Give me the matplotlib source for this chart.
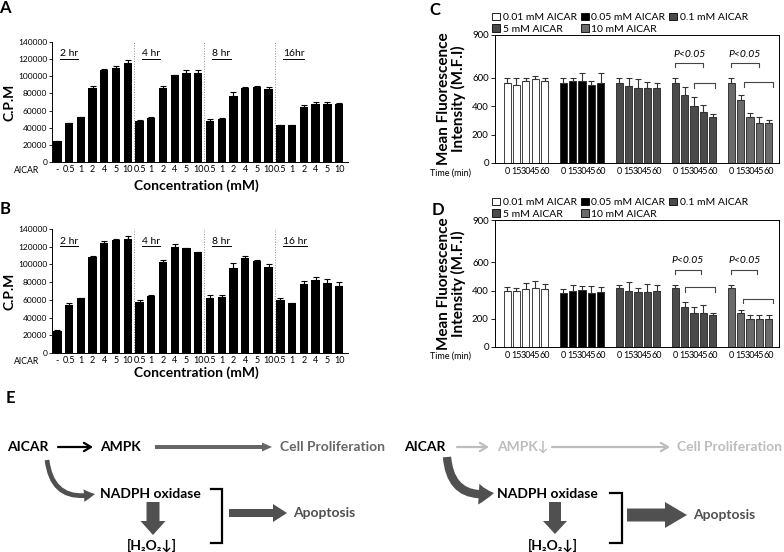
import numpy as np
import matplotlib
matplotlib.use("Agg")
import matplotlib.pyplot as plt
from matplotlib.patches import FancyArrow, FancyArrowPatch, Patch
from matplotlib.lines import Line2D

plt.rcParams["font.family"] = ["Lato", "DejaVu Sans"]

W, H = 784, 552

# ---- panels A / B : proliferation (C.P.M) ----
conc_labels = ["-", "0.5", "1", "2", "4", "5", "10",
               "0.5", "1", "2", "4", "5", "10",
               "0.5", "1", "2", "4", "5", "10",
               "0.5", "1", "2", "4", "5", "10"]
group_starts = [0, 7, 13, 19]
hours_a = ["2 hr", "4 hr", "8 hr", "16hr"]
hours_b = ["2 hr", "4 hr", "8 hr", "16 hr"]

cpm_a = [24000, 45000, 52000, 86000, 107000, 110000, 116000,
         48000, 51000, 86000, 101000, 104000, 104000,
         48000, 50000, 77000, 86000, 87000, 85000,
         43000, 43000, 64000, 68000, 68000, 68000]
err_a = [1000, 1000, 500, 3000, 1000, 2000, 2500,
         500, 2000, 3000, 1000, 3000, 3500,
         2000, 1000, 5000, 2000, 2000, 3000,
         500, 500, 2500, 1500, 2500, 1000]

cpm_b = [25000, 54000, 62000, 108000, 124000, 128000, 129000,
         58000, 64000, 103000, 120000, 118000, 114000,
         62000, 63000, 96000, 107000, 104000, 97000,
         60000, 56000, 78000, 82000, 79000, 76000]
err_b = [1000, 2000, 500, 1000, 3000, 1000, 3000,
         2000, 2000, 2000, 3000, 1000, 500,
         4000, 3000, 6000, 2000, 1000, 3000,
         2000, 500, 3000, 4000, 4000, 4000]

# ---- panels C / D : mean fluorescence intensity ----
doses = ["0.01 mM AICAR", "0.05 mM AICAR", "0.1 mM AICAR", "5 mM AICAR", "10 mM AICAR"]
dose_colors = ["white", "black", "#4a4a4a", "#4a4a4a", "#6a6a6a"]
times = ["0", "15", "30", "45", "60"]

mfi_c = [[560, 550, 575, 590, 575],
         [560, 575, 580, 550, 565],
         [560, 540, 530, 530, 530],
         [560, 480, 400, 360, 320],
         [560, 440, 320, 280, 280]]
err_c = [[35, 50, 25, 25, 25],
         [35, 25, 55, 30, 65],
         [35, 55, 60, 40, 30],
         [35, 55, 65, 45, 25],
         [35, 35, 35, 40, 25]]

mfi_d = [[400, 395, 410, 420, 410],
         [385, 395, 405, 385, 390],
         [415, 400, 390, 390, 395],
         [415, 280, 240, 240, 225],
         [415, 240, 200, 200, 200]]
err_d = [[25, 25, 45, 45, 35],
         [25, 45, 25, 45, 35],
         [25, 60, 30, 60, 45],
         [25, 40, 45, 60, 15],
         [25, 25, 25, 25, 25]]

# brackets: (group, bar from, bar to, top, leg end)
brackets_c = [(3, 0, 3, 705, 675), (3, 2, 4.2, 565, 527),
              (4, 0, 3, 705, 675), (4, 1.3, 4.5, 572, 536)]
brackets_d = [(3, 0, 2.7, 546, 517), (3, 1, 4.2, 427, 392),
              (4, 0, 2.7, 546, 517), (4, 1.2, 4.5, 340, 312)]
plabels_c = [(3, 1.5, 765), (4, 1.4, 765)]
plabels_d = [(3, 1.3, 610), (4, 1.4, 610)]

fig = plt.figure(figsize=(W / 100, H / 100), dpi=100)


def add_ax(left, top, right, bottom):
    return fig.add_axes([left / W, 1 - bottom / H, (right - left) / W, (bottom - top) / H])


def ftext(x, y, s, **kw):
    kw.setdefault("va", "center")
    return fig.text(x / W, 1 - y / H, s, **kw)


underlined = []


def cpm_panel(box, vals, errs, hours, letter, letter_y, aicar_y, xlabel_y):
    ax = add_ax(*box)
    x = np.arange(len(vals))
    ax.bar(x, vals, width=0.72, color="black",
           yerr=[np.zeros(len(errs)), errs],
           error_kw=dict(ecolor="black", elinewidth=0.8, capsize=2, capthick=0.8))
    ax.set_xlim(-0.45, 24.75)
    ax.set_ylim(0, 140000)
    ax.set_yticks(np.arange(0, 140001, 20000))
    ax.tick_params(axis="y", labelsize=6, length=2, width=0.6, pad=1.5)
    ax.set_xticks(x, conc_labels)
    ax.tick_params(axis="x", labelsize=6.5, length=0, pad=2.5)
    for s in ["top", "right"]:
        ax.spines[s].set_visible(False)
    for s in ["left", "bottom"]:
        ax.spines[s].set_linewidth(0.7)
    ax.vlines([6.5, 12.5, 18.5], 0, 140000, colors="0.55", linestyles=":", lw=0.7)
    for st, lab in zip(group_starts, hours):
        underlined.append(ax.text(st + 0.2, 126000, lab, fontsize=7.5, va="center"))
    ax.set_ylabel("C.P.M", fontsize=10, fontweight="bold", labelpad=2)
    ftext(5, letter_y, letter, fontsize=12, fontweight="bold", ha="center")
    ftext(39, aicar_y, "AICAR", fontsize=6.3, ha="right")
    ftext(196, xlabel_y, "Concentration (mM)", fontsize=10, fontweight="bold", ha="center")
    return ax


def mfi_panel(box, vals, errs, brackets, plabels, letter, letter_xy, time_y):
    ax = add_ax(*box)
    for g in range(5):
        x = g * 6 + np.arange(5)
        ax.bar(x, vals[g], width=0.78, color=dose_colors[g], edgecolor="#222222", lw=0.6,
               yerr=[np.zeros(5), errs[g]],
               error_kw=dict(ecolor="#333333", elinewidth=0.8, capsize=2.5, capthick=0.8))
    ax.set_xlim(-1.3, 29.1)
    ax.set_ylim(0, 900)
    ax.set_yticks([0, 200, 400, 600, 900])
    ax.tick_params(axis="y", labelsize=7, length=3, width=0.6, pad=1.5)
    ticks = [g * 6 + i for g in range(5) for i in range(5)]
    ax.set_xticks(ticks, times * 5)
    ax.tick_params(axis="x", labelsize=6.5, length=0, pad=3)
    for s in ax.spines.values():
        s.set_linewidth(0.7)
    for g, a, b, top, leg in brackets:
        xa, xb = g * 6 + a, g * 6 + b
        ax.plot([xa, xa, xb, xb], [leg, top, top, leg], color="#444444", lw=0.8)
    for g, xc, y in plabels:
        ax.text(g * 6 + xc, y, "P<0.05", fontsize=7.5, style="italic", ha="center", va="center")
    ax.set_ylabel("Mean Fluorescence\nIntensity (M.F.I)", fontsize=11, fontweight="bold",
                  linespacing=1.0, labelpad=4)
    handles = [Patch(facecolor=c, edgecolor="black", lw=0.6) for c in dose_colors]
    order = [0, 3, 1, 4, 2]
    ax.legend([handles[i] for i in order], [doses[i] for i in order], ncol=3,
              loc="lower left", bbox_to_anchor=(-0.01, 1.01), frameon=False, fontsize=7.5,
              handlelength=0.75, handleheight=0.75, handletextpad=0.25, columnspacing=0.4,
              borderpad=0, borderaxespad=0, labelspacing=0.2)
    ftext(letter_xy[0], letter_xy[1], letter, fontsize=12, fontweight="bold", ha="center")
    ftext(450, time_y, "Time (min)", fontsize=6.5, ha="center")
    return ax


cpm_panel((52, 42, 348, 162), cpm_a, err_a, hours_a, "A", 8, 171, 186)
cpm_panel((52, 229, 348, 353), cpm_b, err_b, hours_b, "B", 209, 361, 373)
mfi_panel((495, 35, 779, 163), mfi_c, err_c, brackets_c, plabels_c, "C", (435, 10), 173)
mfi_panel((495, 220, 779, 347), mfi_d, err_d, brackets_d, plabels_d, "D", (438, 210), 356)

# ---- panel E : schematic ----
ex = fig.add_axes([0, 0, 1, 1])
ex.set_xlim(0, W)
ex.set_ylim(H, 0)
ex.axis("off")
ex.patch.set_alpha(0)

dark = "#505050"
mid = "#666666"
light = "#bdbdbd"
tfont = dict(fontsize=10, fontweight="bold", va="center")

ftext(10, 398, "E", fontsize=12, fontweight="bold", ha="center")


def block_arrow(x, y, dx, dy, w, hw, hl, c=dark):
    ex.add_patch(FancyArrow(x, y, dx, dy, width=w, head_width=hw, head_length=hl,
                            length_includes_head=True, color=c, lw=0))


def thin_arrow(x0, x1, y, c):
    ex.annotate("", xy=(x1, y), xytext=(x0, y),
                arrowprops=dict(arrowstyle="->,head_length=0.5,head_width=0.3", color=c, lw=1.6,
                                shrinkA=0, shrinkB=0))


def curved(p0, p1, tail, head_w, head_l):
    ex.add_patch(FancyArrowPatch(p0, p1, connectionstyle="arc3,rad=0.55",
                                 arrowstyle=f"simple,head_length={head_l},head_width={head_w},tail_width={tail}",
                                 mutation_scale=20, color=dark, lw=0, shrinkA=0, shrinkB=0))


def bracket(x0, x1, y0, y1):
    ex.plot([x0, x1, x1, x0], [y0, y0, y1, y1], color="black", lw=1.6, solid_joinstyle="miter")


# left scheme
ex.text(7, 447, "AICAR", color="black", **tfont)
thin_arrow(58, 93, 447, "black")
ex.text(100, 447, "AMPK", color="black", **tfont)
block_arrow(155, 447, 117, 0, 4, 9, 10, mid)
ex.text(280, 447, "Cell Proliferation", color=mid, **tfont)
curved((47, 460), (95, 494), 0.17, 0.45, 0.4)
ex.text(100, 494, "NADPH oxidase", color="black", **tfont)
bracket(211, 222, 489, 543)
block_arrow(153, 502, 0, 33, 13, 25, 14)
ex.text(152, 545, "[H₂O₂↓]", color="black", ha="center", fontsize=10, fontweight="bold", va="center")
block_arrow(229, 513, 58, 0, 8, 18, 14)
ex.text(293, 513, "Apoptosis", color=dark, **tfont)

# right scheme
ex.text(404, 447, "AICAR", color="black", **tfont)
thin_arrow(457, 489, 447, light)
ex.text(497, 447, "AMPK↓", color=light, **tfont)
thin_arrow(552, 670, 447, light)
ex.text(677, 447, "Cell Proliferation", color=light, **tfont)
curved((447, 457), (494, 493), 0.3, 0.75, 0.55)
ex.text(497, 494, "NADPH oxidase", color="black", **tfont)
bracket(610, 622, 493, 543)
block_arrow(555, 502, 0, 32, 12, 24, 13)
ex.text(553, 545, "[H₂O₂↓]", color="black", ha="center", fontsize=10, fontweight="bold", va="center")
block_arrow(627, 515, 60, 0, 13, 26, 22)
ex.text(693, 515, "Apoptosis", color=dark, **tfont)

# underline the hour labels in A and B
fig.canvas.draw()
r = fig.canvas.get_renderer()
for t in underlined:
    bb = t.get_window_extent(r)
    fig.add_artist(Line2D([bb.x0 / W, bb.x1 / W], [(bb.y0 - 0.5) / H] * 2,
                          transform=fig.transFigure, color="black", lw=0.7))

fig.savefig("out.png", dpi=100)
